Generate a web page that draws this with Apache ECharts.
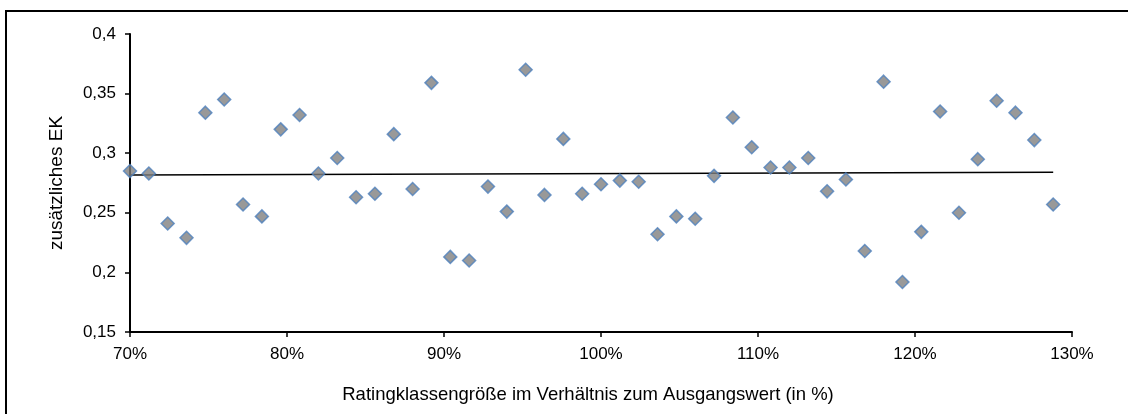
<!DOCTYPE html>
<html>
<head>
<meta charset="utf-8">
<title>zusätzliches EK</title>
<script src="https://cdn.jsdelivr.net/npm/echarts@6/dist/echarts.min.js"></script>
<style>
  html, body { margin: 0; padding: 0; background: #fff; }
  #chart { width: 1128px; height: 414px; }
</style>
</head>
<body>
<div id="chart"></div>
<script>
// Ratingklassengröße in % vom Ausgangswert
var xValues = [
  70.0, 71.2, 72.4, 73.6, 74.8, 76.0, 77.2, 78.4, 79.6, 80.8,
  82.0, 83.2, 84.4, 85.6, 86.8, 88.0, 89.2, 90.4, 91.6, 92.8,
  94.0, 95.2, 96.4, 97.6, 98.8, 100.0, 101.2, 102.4, 103.6, 104.8,
  106.0, 107.2, 108.4, 109.6, 110.8, 112.0, 113.2, 114.4, 115.6, 116.8,
  118.0, 119.2, 120.4, 121.6, 122.8, 124.0, 125.2, 126.4, 127.6, 128.8
]
// zusätzliches EK
var ekValues = [
  0.285, 0.283, 0.241, 0.229, 0.334, 0.345, 0.257, 0.247, 0.320, 0.332,
  0.283, 0.296, 0.263, 0.266, 0.316, 0.270, 0.359, 0.213, 0.210, 0.272,
  0.251, 0.370, 0.265, 0.312, 0.266, 0.274, 0.277, 0.276, 0.232, 0.247,
  0.245, 0.281, 0.330, 0.305, 0.288, 0.288, 0.296, 0.268, 0.278, 0.218,
  0.360, 0.192, 0.234, 0.335, 0.250, 0.295, 0.344, 0.334, 0.311, 0.257
]
// lineare Trendlinie (Endpunkte)
var trendX = [70.0, 128.8]
var trendY = [0.2817, 0.2840]

var xTicks = [70, 80, 90, 100, 110, 120, 130]
var yTicks = [0.15, 0.2, 0.25, 0.3, 0.35, 0.4]

var font = "'Liberation Sans', Arial, sans-serif"

var chart = echarts.init(document.getElementById('chart'))

var points = xValues.map(function (x, i) { return [x, ekValues[i]] })
var trend = trendX.map(function (x, i) { return [x, trendY[i]] })

chart.setOption({
  animation: false,
  textStyle: { fontFamily: font, color: '#000' },
  // Rahmen um das Diagramm
  graphic: [
    {
      type: 'rect',
      z: -1,
      shape: { x: 6, y: 11, width: 1200, height: 500 },
      style: { fill: 'none', stroke: '#000', lineWidth: 2 }
    }
  ],
  grid: { left: 130, right: 56, top: 34, bottom: 82 },
  xAxis: {
    type: 'value',
    min: xTicks[0],
    max: xTicks[xTicks.length - 1],
    interval: 10,
    name: 'Ratingklassengröße im Verhältnis zum Ausgangswert (in %)',
    nameLocation: 'middle',
    nameGap: 53,
    nameTextStyle: { fontSize: 18.5, color: '#000', fontFamily: font, padding: [0, 26, 0, 0] },
    splitLine: { show: false },
    axisLine: { lineStyle: { color: '#000', width: 2 } },
    axisTick: { show: true, length: 5, lineStyle: { color: '#000', width: 1.5 } },
    axisLabel: {
      fontSize: 17,
      color: '#000',
      margin: 14,
      formatter: function (v) { return v + '%' }
    }
  },
  yAxis: {
    type: 'value',
    min: yTicks[0],
    max: yTicks[yTicks.length - 1],
    interval: 0.05,
    name: 'zusätzliches EK',
    nameLocation: 'middle',
    nameGap: 64,
    nameTextStyle: { fontSize: 19, color: '#000', fontFamily: font },
    splitLine: { show: false },
    axisLine: { show: true, lineStyle: { color: '#000', width: 2 } },
    axisTick: { show: true, length: 5, lineStyle: { color: '#000', width: 1.5 } },
    axisLabel: {
      fontSize: 17,
      color: '#000',
      margin: 14,
      formatter: function (v) { return String(+v.toFixed(2)).replace('.', ',') }
    }
  },
  series: [
    {
      name: 'Trend',
      type: 'line',
      data: trend,
      showSymbol: false,
      symbol: 'none',
      lineStyle: { color: '#000', width: 1.5 },
      z: 1
    },
    {
      name: 'zusätzliches EK',
      type: 'scatter',
      data: points,
      symbol: 'diamond',
      symbolSize: 13,
      itemStyle: { color: '#7f7f7f', borderColor: '#4f81bd', borderWidth: 1.5 },
      z: 2
    }
  ]
})
</script>
</body>
</html>
